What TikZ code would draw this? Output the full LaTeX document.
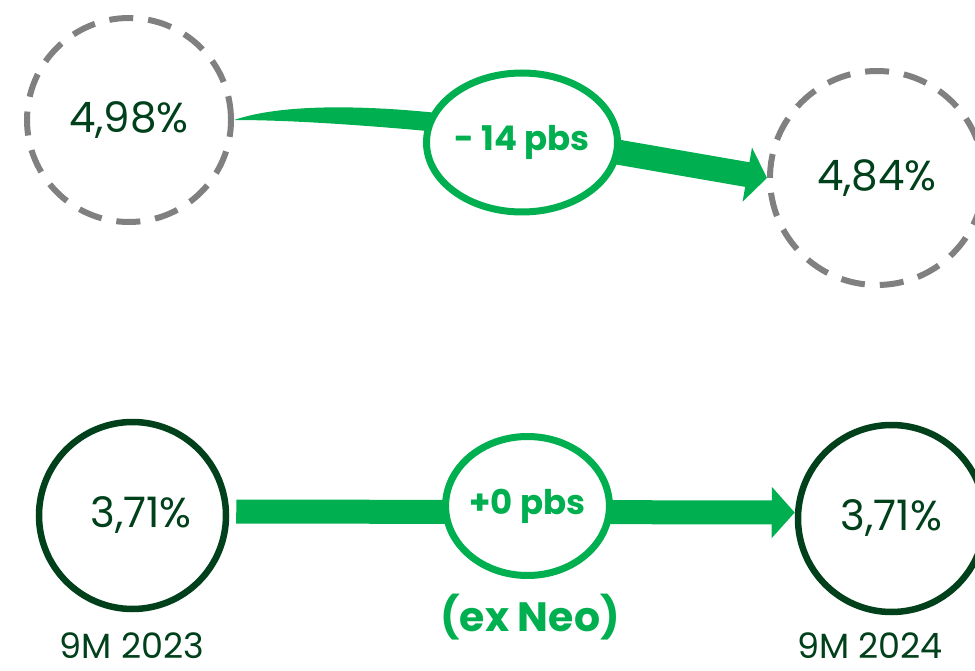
\documentclass[tikz,border=0pt]{standalone}
\usepackage{fontspec}
\setmainfont{Poppins}
\usetikzlibrary{shapes.geometric,arrows.meta,backgrounds}
\definecolor{brightgreen}{HTML}{00AF50}
\definecolor{darkgreen}{HTML}{00401A}
\definecolor{dashgray}{HTML}{808080}

\begin{document}
\begin{tikzpicture}[x=1pt,y=-1pt,
  oldrate/.style={circle, draw=dashgray, line width=6pt, dash pattern=on 24pt off 15pt,
    text=darkgreen, font=\fontsize{42}{48}\selectfont},
  rate/.style={circle, draw=darkgreen, line width=6.5pt, minimum size=187pt,
    text=darkgreen, font=\fontsize{42}{48}\selectfont},
  delta/.style={ellipse, draw=brightgreen, fill=white, line width=7pt,
    minimum width=163pt, minimum height=139pt, inner sep=0pt,
    text=brightgreen, font=\bfseries\fontsize{34}{40}\selectfont},
  year/.style={text=darkgreen, inner sep=1pt, font=\fontsize{35}{40}\selectfont}]
\useasboundingbox (0,0) rectangle (975,671);

% top row: 4,98% -> 4,84%
\node [oldrate, minimum size=204pt] (old) at (129,120) {4,98\%};
\node [oldrate, minimum size=214pt] (new) at (877,178) {4,84\%};
\node [delta] (drop) at (522,142.5) {- 14 pbs};

% bottom row: 3,71% -> 3,71%
\node [rate] (base) at (132.5,515.5) {\hspace{17pt}3,71\%};
\node [rate] (now) at (891.5,518.5) {3,71\%};
\node [delta] (flat) at (527.5,506) {+0 pbs};

\node [text=brightgreen, font=\bfseries\fontsize{41}{46}\selectfont] (exneo) at (530,617) {(ex Neo)};
\node [year] (y1) at (132,646) {9M 2023};
\node [year] (y2) at (870,646) {9M 2024};

\begin{scope}[on background layer]
  \fill [brightgreen] (old.east) .. controls (290,101) and (390,106) .. (480,118)
    -- (480,136) .. controls (390,127) and (300,120) .. (old.east);
  \draw [brightgreen, line width=25pt, -{Triangle[length=20pt, width=54pt]}]
    ([yshift=7pt]drop.center) -- (new.west);
  \draw [brightgreen, line width=24pt, shorten <=7pt, -{Triangle[length=23pt, width=50pt]}]
    ([yshift=4pt]base.east) -- ([yshift=6pt]now.west);
\end{scope}
\end{tikzpicture}
\end{document}
